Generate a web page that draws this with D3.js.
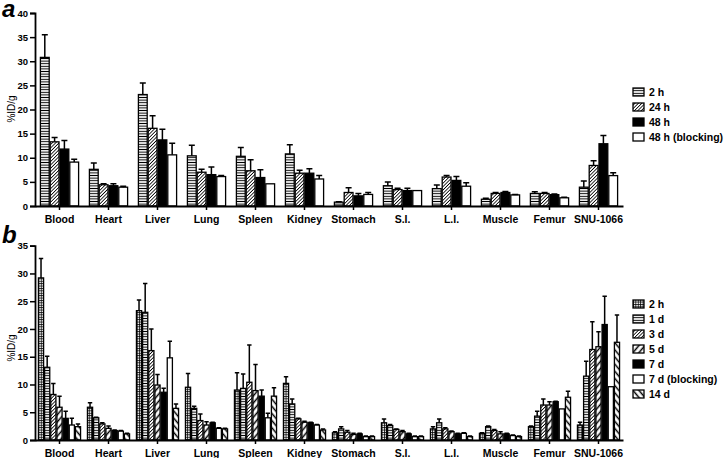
<html lang="en">
<head>
<meta charset="UTF-8">
<title>Biodistribution</title>
<script src="https://cdn.jsdelivr.net/npm/d3@7"></script>
<style>
  body { margin: 0; background: #fff; }
  text { font-family: "Liberation Sans", Arial, sans-serif; }
</style>
</head>
<body>
<script>
// organs on the x axis (both panels)
var organs = ["Blood", "Heart", "Liver", "Lung", "Spleen", "Kidney", "Stomach", "S.I.", "L.I.", "Muscle", "Femur", "SNU-1066"];

// panel a series
var seriesA = ["2 h", "24 h", "48 h", "48 h (blocking)"];
var a2h     = [30.8, 7.6, 23.1, 10.4, 10.3, 10.8, 0.8, 4.2, 3.6, 1.4, 2.6, 3.9];
var a2hSd   = [4.7, 1.3, 2.4, 2.2, 1.8, 1.9, 0.1, 0.8, 0.75, 0.2, 0.35, 1.3];
var a24h    = [13.3, 4.4, 16.1, 7.0, 7.3, 6.8, 2.8, 3.4, 6.0, 2.6, 2.6, 8.4];
var a24hSd  = [0.9, 0.2, 2.6, 0.6, 2.3, 0.6, 1.0, 0.3, 0.3, 0.2, 0.2, 1.0];
var a48h    = [11.8, 4.2, 13.7, 6.5, 5.9, 6.8, 2.1, 3.2, 5.3, 2.8, 2.35, 12.9];
var a48hSd  = [1.8, 0.4, 2.2, 1.6, 1.6, 0.9, 0.5, 0.5, 0.8, 0.2, 0.15, 1.7];
var aBlock  = [9.1, 3.9, 10.6, 6.1, 4.6, 5.6, 2.4, 3.2, 4.1, 2.3, 1.7, 6.3];
var aBlockSd= [0.6, 0.2, 2.4, 0.2, 0, 0.7, 0.4, 0, 0.7, 0.1, 0.1, 0.6];
var ticksA  = [0, 5, 10, 15, 20, 25, 30, 35, 40];

// panel b series
var seriesB = ["2 h", "1 d", "3 d", "5 d", "7 d", "7 d (blocking)", "14 d"];
var b2h     = [29.2, 5.9, 23.3, 9.5, 9.0, 10.2, 1.3, 3.1, 2.0, 1.2, 2.4, 2.7];
var b2hSd   = [3.5, 0.8, 1.9, 2.5, 3.1, 1.2, 0.2, 0.7, 0.4, 0.1, 0.1, 0.5];
var b1d     = [13.1, 4.0, 23.0, 5.7, 9.3, 6.5, 2.0, 2.6, 3.1, 2.4, 4.3, 11.5];
var b1dSd   = [2.0, 0.1, 5.2, 0.4, 2.6, 0.9, 0.4, 0.2, 0.7, 0.1, 0.9, 2.7];
var b3d     = [8.2, 2.9, 16.1, 3.5, 10.4, 3.8, 1.4, 1.9, 2.0, 1.7, 6.3, 16.3];
var b3dSd   = [2.0, 0.2, 3.9, 1.2, 6.7, 0.1, 0.3, 0.1, 0.2, 0.2, 1.1, 5.0];
var b5d     = [5.9, 2.1, 9.9, 2.7, 8.9, 3.2, 1.0, 1.5, 1.5, 1.1, 6.3, 16.8];
var b5dSd   = [2.0, 0.4, 1.9, 0.6, 4.7, 0.2, 0.2, 0.2, 0.1, 0.4, 0.6, 2.7];
var b7d     = [3.9, 1.7, 8.6, 3.1, 7.9, 3.1, 1.1, 1.1, 1.1, 1.1, 6.9, 20.8];
var b7dSd   = [1.3, 0.1, 0.7, 0.1, 1.1, 0.1, 0.1, 0.1, 0.1, 0.1, 0.1, 5.1];
var b7dBlk  = [2.7, 1.6, 14.8, 2.1, 4.0, 2.7, 0.6, 0.6, 1.2, 0.8, 5.6, 9.6];
var b7dBlkSd= [1.2, 0.1, 3.0, 0.1, 0.8, 0.1, 0.1, 0.1, 0.1, 0.1, 0, 0];
var b14d    = [2.4, 1.1, 5.7, 2.0, 7.9, 1.8, 0.6, 0.6, 0.6, 0.6, 7.7, 17.6];
var b14dSd  = [0.5, 0.1, 0.8, 0.1, 1.5, 0.2, 0.1, 0.1, 0.1, 0.1, 1.1, 4.9];
var ticksB  = [0, 5, 10, 15, 20, 25, 30, 35];

var W = 724, H = 458;
var svg = d3.select("body").append("svg").attr("width", W).attr("height", H);
var defs = svg.append("defs");

// fill patterns
function stripes(id, size, w, angle) {
  var p = defs.append("pattern").attr("id", id).attr("patternUnits", "userSpaceOnUse")
    .attr("width", size).attr("height", size)
    .attr("patternTransform", "rotate(" + angle + ")");
  p.append("rect").attr("width", size).attr("height", size).attr("fill", "#fff");
  p.append("line").attr("x1", size / 2).attr("x2", size / 2).attr("y1", 0).attr("y2", size)
    .attr("stroke", "#000").attr("stroke-width", w);
}
stripes("hlines", 2.6, 1.0, 90);
stripes("fine", 2.4, 0.8, 45);
stripes("coarseR", 4.6, 1.5, 40);
stripes("coarseL", 4.6, 1.5, -40);
var g = defs.append("pattern").attr("id", "grid").attr("patternUnits", "userSpaceOnUse")
  .attr("width", 2.4).attr("height", 2.4);
g.append("rect").attr("width", 2.4).attr("height", 2.4).attr("fill", "#fff");
g.append("path").attr("d", "M0,0.5H2.4M0.5,0V2.4").attr("stroke", "#000").attr("stroke-width", 0.8);

function panel(opt) {
  var x = d3.scaleBand().domain(organs).range([35, 623])
    .paddingInner(opt.padIn).paddingOuter(opt.padOut);
  var xs = d3.scaleBand().domain(d3.range(opt.series.length)).range([0, x.bandwidth()]);
  var y = d3.scaleLinear().domain([0, opt.max]).range([opt.y0, opt.yTop]);

  var root = svg.append("g");

  // bars
  opt.series.forEach(function (name, si) {
    var gs = root.append("g");
    gs.selectAll("rect").data(opt.means[si]).enter().append("rect")
      .attr("x", (d, i) => x(organs[i]) + xs(si) + 0.5)
      .attr("y", d => y(d))
      .attr("width", xs.bandwidth() - 1)
      .attr("height", d => y(0) - y(d))
      .attr("fill", opt.fills[si])
      .attr("stroke", "#000").attr("stroke-width", 1.3);
    // upper error bars
    opt.sds[si].forEach(function (sd, i) {
      if (!sd) return;
      var cx = x(organs[i]) + xs(si) + xs.bandwidth() / 2;
      var m = opt.means[si][i];
      gs.append("path")
        .attr("d", "M" + cx + "," + y(m) + "V" + y(m + sd) +
          "M" + (cx - opt.cap) + "," + y(m + sd) + "H" + (cx + opt.cap))
        .attr("stroke", "#000").attr("stroke-width", 1.5).attr("fill", "none");
    });
  });

  // axes
  var ya = root.append("g").attr("transform", "translate(35,0)")
    .call(d3.axisLeft(y).tickValues(opt.ticks).tickSize(5).tickPadding(2));
  var xa = root.append("g").attr("transform", "translate(0," + opt.y0 + ")")
    .call(d3.axisBottom(x).tickSize(4).tickPadding(6).tickSizeOuter(0));
  [ya, xa].forEach(function (a) {
    a.select(".domain").attr("stroke-width", 1.8);
    a.selectAll(".tick line").attr("stroke-width", 1.5);
  });
  ya.selectAll("text").attr("font-size", 9.5).attr("font-weight", "bold").attr("fill", "#000");
  xa.selectAll("text").attr("font-size", 10.5).attr("font-weight", "bold").attr("fill", "#000");

  root.append("text").attr("transform", "translate(15," + opt.labelY + ") rotate(-90)")
    .attr("text-anchor", "middle").attr("font-size", 10).text("%ID/g");

  root.append("text").attr("x", 2).attr("y", opt.letterY)
    .attr("font-size", 24).attr("font-weight", "bold").attr("font-style", "italic")
    .text(opt.letter);

  // legend
  var lg = root.append("g").selectAll("g").data(opt.series).enter().append("g")
    .attr("transform", (d, i) => "translate(633," + (opt.legY + i * 15) + ")");
  lg.append("rect").attr("x", 0).attr("y", -4).attr("width", 11).attr("height", 8)
    .attr("fill", (d, i) => opt.fills[i]).attr("stroke", "#000").attr("stroke-width", 1.3);
  lg.append("text").attr("x", 16).attr("y", 4).attr("font-size", 10.5).attr("font-weight", "bold")
    .text(d => d);
}

panel({
  series: seriesA,
  means: [a2h, a24h, a48h, aBlock],
  sds: [a2hSd, a24hSd, a48hSd, aBlockSd],
  fills: ["url(#hlines)", "url(#fine)", "#000", "#fff"],
  max: 40, ticks: ticksA, y0: 206, yTop: 13,
  padIn: 0.2, padOut: 0.1, cap: 3,
  labelY: 109, letter: "a", letterY: 17, legY: 92
});

panel({
  series: seriesB,
  means: [b2h, b1d, b3d, b5d, b7d, b7dBlk, b14d],
  sds: [b2hSd, b1dSd, b3dSd, b5dSd, b7dSd, b7dBlkSd, b14dSd],
  fills: ["url(#grid)", "url(#hlines)", "url(#fine)", "url(#coarseR)", "#000", "#fff", "url(#coarseL)"],
  max: 35, ticks: ticksB, y0: 440, yTop: 245.7,
  padIn: 0.12, padOut: 0.06, cap: 2.2,
  labelY: 348, letter: "b", letterY: 243, legY: 304
});
</script>
</body>
</html>
